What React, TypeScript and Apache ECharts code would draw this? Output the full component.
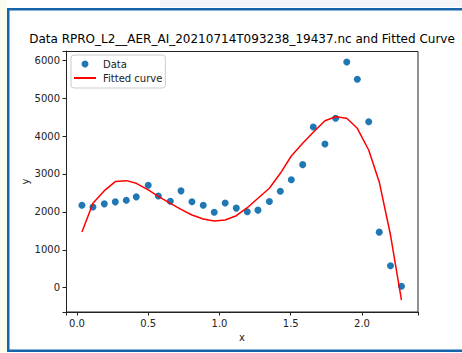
import React, { useEffect, useRef } from "react";
import * as echarts from "echarts";

const titleText = "Data RPRO_L2__AER_AI_20210714T093238_19437.nc and Fitted Curve";
const xValues = [0.035, 0.112, 0.192, 0.269, 0.346, 0.416, 0.5, 0.571, 0.655, 0.73, 0.807, 0.886, 0.963, 1.04, 1.118, 1.195, 1.27, 1.35, 1.427, 1.504, 1.584, 1.658, 1.74, 1.815, 1.893, 1.967, 2.047, 2.121, 2.2, 2.277];
const dataValues = [2174, 2129, 2212, 2265, 2306, 2397, 2702, 2420, 2279, 2555, 2269, 2174, 1989, 2235, 2100, 2005, 2046, 2275, 2547, 2846, 3247, 4240, 3792, 4470, 5955, 5499, 4380, 1466, 580, 40];
const fittedValues = [1470, 2230, 2560, 2800, 2825, 2755, 2580, 2410, 2226, 2068, 1918, 1813, 1760, 1786, 1900, 2111, 2359, 2623, 3018, 3475, 3810, 4100, 4406, 4512, 4470, 4206, 3633, 2790, 1390, -330];
const xTicks = [0, 0.5, 1.0, 1.5, 2.0];
const yTicks = [0, 1000, 2000, 3000, 4000, 5000, 6000];
const xRange = [-0.077, 2.393];
const yRange = [-641, 6245];

const FONT = "DejaVu Sans";
const GRID = { left: 66, right: 44, top: 51, bottom: 41 };
const W = 462;
const H = 353;

export default function App() {
  const ref = useRef<HTMLDivElement>(null);
  useEffect(() => {
    if (!ref.current) return;
    const chart = echarts.init(ref.current, undefined, { renderer: "svg" });
    const scatterData = xValues.map((x, i) => [x, dataValues[i]]);
    const lineData = xValues.map((x, i) => [x, fittedValues[i]]);
    const spine = { show: true, onZero: false, lineStyle: { color: "#222222", width: 1 } };
    const tick = { show: true, length: 3.5, lineStyle: { color: "#222222", width: 1 } };
    const labelStyle = { fontFamily: FONT, fontSize: 10, color: "#222" };
    chart.setOption({
      animation: false,
      backgroundColor: "#ffffff",
      graphic: [
        { type: "rect", z: -10, shape: { x: 0, y: 0, width: 7, height: H }, style: { fill: "#fafcef" } },
        { type: "rect", z: -10, shape: { x: 160, y: 0, width: W - 160, height: 7 }, style: { fill: "#f1f5fa" } },
        { type: "rect", z: -5, shape: { x: 8.25, y: 9.25, width: 520, height: 341.5 }, style: { fill: "none", stroke: "#1565ad", lineWidth: 2.5 } },
        {
          type: "rect",
          z: 1,
          silent: true,
          shape: {
            x: GRID.left + 0.5,
            y: GRID.top + 0.5,
            width: W - GRID.left - GRID.right - 0.5,
            height: H - GRID.top - GRID.bottom - 0.5,
          },
          style: { fill: "none", stroke: "#222222", lineWidth: 1 },
        },
      ],
      title: {
        text: titleText,
        left: 242,
        textAlign: "center",
        top: 33,
        padding: 0,
        textStyle: { fontFamily: FONT, fontSize: 12, fontWeight: "normal", color: "#000" },
      },
      grid: GRID,
      legend: {
        orient: "vertical",
        left: 71,
        top: 55,
        padding: [4, 3, 5, 2],
        itemGap: 4,
        itemWidth: 22,
        itemHeight: 7,
        backgroundColor: "#fff",
        borderColor: "#cccccc",
        borderWidth: 1,
        borderRadius: 3,
        textStyle: { fontFamily: FONT, fontSize: 10, color: "#222", padding: [0, 0, 0, 2] },
        data: [
          { name: "Data", icon: "circle", itemStyle: { color: "#1f77b4", opacity: 1 } },
          { name: "Fitted curve", itemStyle: { opacity: 0 } },
        ],
      },
      xAxis: {
        type: "value",
        min: xRange[0],
        max: xRange[1],
        axisLine: spine,
        splitLine: { show: false },
        axisTick: tick,
        axisLabel: {
          ...labelStyle,
          margin: 6,
          formatter: (v: number) => (xTicks.some((t) => Math.abs(t - v) < 1e-6) ? v.toFixed(1) : ""),
        },
        name: "x",
        nameLocation: "middle",
        nameGap: 19,
        nameTextStyle: labelStyle,
      },
      yAxis: {
        type: "value",
        min: yRange[0],
        max: yRange[1],
        axisLine: spine,
        splitLine: { show: false },
        axisTick: tick,
        axisLabel: {
          ...labelStyle,
          margin: 6,
          formatter: (v: number) => (yTicks.includes(v) ? String(v) : ""),
        },
        name: "y",
        nameLocation: "middle",
        nameGap: 36,
        nameMoveOverlap: false,
        nameTextStyle: labelStyle,
      },
      series: [
        {
          name: "Data",
          type: "scatter",
          data: scatterData,
          symbolSize: 7,
          itemStyle: { color: "#1f77b4", opacity: 1 },
          z: 2,
        },
        {
          name: "Fitted curve",
          type: "line",
          data: lineData,
          showSymbol: false,
          symbol: "none",
          lineStyle: { color: "#ff0000", width: 1.5 },
          itemStyle: { color: "#ff0000" },
          z: 3,
        },
      ],
    });
    return () => chart.dispose();
  }, []);
  return (
    <div
      ref={ref}
      style={{ position: "absolute", left: 0, top: 0, width: W, height: H }}
    />
  );
}
